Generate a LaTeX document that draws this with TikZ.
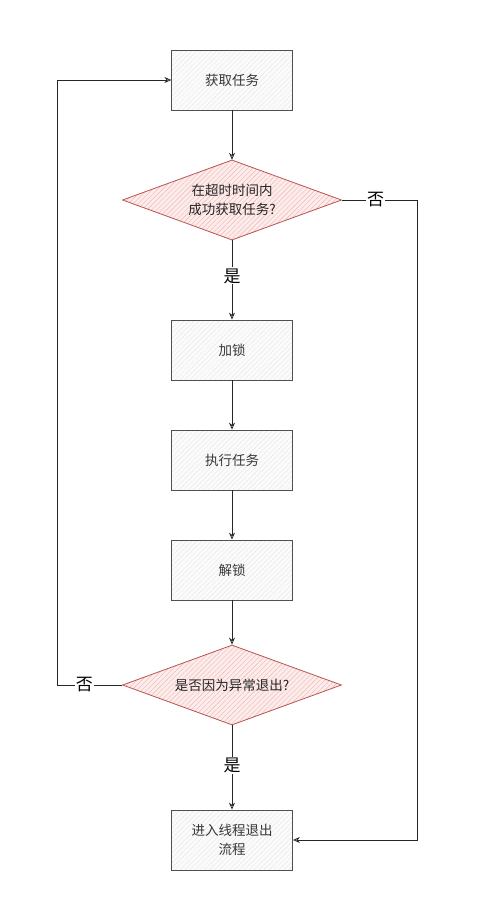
\documentclass[tikz,border=0pt]{standalone}
\usepackage{fontspec}
\setmainfont{Noto Sans CJK SC}
\usetikzlibrary{shapes.geometric,arrows.meta,patterns.meta}
\definecolor{boxline}{RGB}{80,80,80}
\definecolor{redline}{RGB}{184,84,80}
\definecolor{redfill}{RGB}{252,236,235}
\definecolor{redhatch}{RGB}{240,180,178}
\tikzset{
  procbox/.style={draw=boxline,line width=0.8pt,preaction={fill=gray!3},pattern={Lines[angle=45,distance=3.5pt,line width=0.3pt]},pattern color=gray!22,minimum width=121pt,minimum height=60pt,inner sep=2pt,align=center,font=\fontsize{13.5pt}{19pt}\selectfont,text=black!78},
  decbox/.style={diamond,draw=redline,line width=0.8pt,preaction={fill=redfill},pattern={Lines[angle=45,distance=3.5pt,line width=0.4pt]},pattern color=redhatch,minimum width=219pt,minimum height=80pt,inner sep=0pt},
  dectext/.style={align=center,inner sep=0pt,font=\fontsize{13.5pt}{19pt}\selectfont,text=black!85},
  flow/.style={draw=black!85,line width=0.8pt,-{Stealth[open,length=7pt,width=6pt]}},
  lbl/.style={fill=white,inner sep=1pt,font=\fontsize{17pt}{19pt}\selectfont}
}
\begin{document}
\begin{tikzpicture}[x=1pt,y=-1pt]
\useasboundingbox (0,0) rectangle (477,921);
\node[procbox] (t1) at (232,80) {获取任务};
\node[decbox] (d1) at (232,200) {};
\node[dectext] (d1t) at (d1.center) {在超时时间内\\成功获取任务?};
\node[procbox] (t2) at (232,350) {加锁};
\node[procbox] (t3) at (232,460) {执行任务};
\node[procbox] (t4) at (232,570) {解锁};
\node[decbox] (d2) at (232,685) {};
\node[dectext] (d2t) at (d2.center) {是否因为异常退出?};
\node[procbox] (t5) at (232,840) {进入线程退出\\流程};
\coordinate (l1) at (57,685);
\coordinate (l2) at (57,80);
\coordinate (r1) at (417,200);
\coordinate (r2) at (417,840);
\draw[flow] (t1) -- (d1);
\draw[flow] (d1) -- node[lbl,pos=0.45]{是} (t2);
\draw[flow] (t2) -- (t3);
\draw[flow] (t3) -- (t4);
\draw[flow] (t4) -- (d2);
\draw[flow] (d2) -- node[lbl,pos=0.48]{是} (t5);
\draw[flow] (d2.west) -- node[lbl,pos=0.58]{否} (l1) -- (l2) -- (t1.west);
\draw[flow] (d1.east) -- node[lbl,pos=0.45]{否} (r1) -- (r2) -- (t5.east);
\end{tikzpicture}
\end{document}
